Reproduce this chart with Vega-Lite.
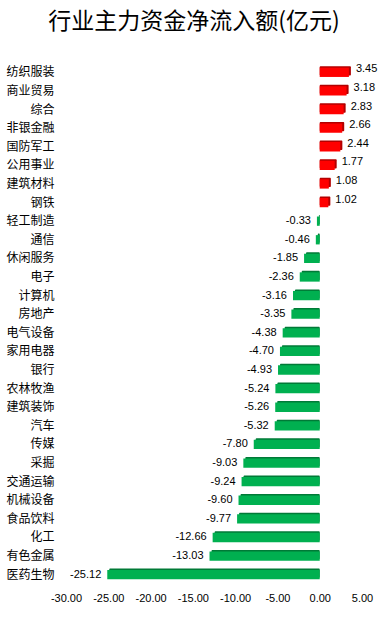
{
  "$schema": "https://vega.github.io/schema/vega-lite/v6.json",
  "width": 296,
  "height": 521,
  "autosize": {"type": "none"},
  "padding": {"left": 66, "top": 63, "right": 24, "bottom": 33},
  "background": "white",
  "title": {
    "text": "行业主力资金净流入额(亿元)",
    "font": "Noto Sans CJK SC",
    "fontSize": 23,
    "fontWeight": "normal",
    "color": "#000000",
    "anchor": "middle",
    "frame": "group",
    "dx": -20,
    "offset": 29
  },
  "data": {
    "values": [
      {"industry": "纺织服装", "value": 3.45},
      {"industry": "商业贸易", "value": 3.18},
      {"industry": "综合", "value": 2.83},
      {"industry": "非银金融", "value": 2.66},
      {"industry": "国防军工", "value": 2.44},
      {"industry": "公用事业", "value": 1.77},
      {"industry": "建筑材料", "value": 1.08},
      {"industry": "钢铁", "value": 1.02},
      {"industry": "轻工制造", "value": -0.33},
      {"industry": "通信", "value": -0.46},
      {"industry": "休闲服务", "value": -1.85},
      {"industry": "电子", "value": -2.36},
      {"industry": "计算机", "value": -3.16},
      {"industry": "房地产", "value": -3.35},
      {"industry": "电气设备", "value": -4.38},
      {"industry": "家用电器", "value": -4.70},
      {"industry": "银行", "value": -4.93},
      {"industry": "农林牧渔", "value": -5.24},
      {"industry": "建筑装饰", "value": -5.26},
      {"industry": "汽车", "value": -5.32},
      {"industry": "传媒", "value": -7.80},
      {"industry": "采掘", "value": -9.03},
      {"industry": "交通运输", "value": -9.24},
      {"industry": "机械设备", "value": -9.60},
      {"industry": "食品饮料", "value": -9.77},
      {"industry": "化工", "value": -12.66},
      {"industry": "有色金属", "value": -13.03},
      {"industry": "医药生物", "value": -25.12}
    ]
  },
  "encoding": {
    "y": {
      "field": "industry",
      "type": "nominal",
      "sort": null,
      "scale": {"paddingInner": 0.5, "paddingOuter": 0.25},
      "axis": {
        "title": null,
        "domain": false,
        "ticks": false,
        "labelFont": "Noto Sans CJK SC",
        "labelFontSize": 12,
        "labelColor": "#000000",
        "labelPadding": 12
      }
    },
    "x": {
      "field": "value",
      "type": "quantitative",
      "scale": {"domain": [-30, 5], "nice": false, "zero": false},
      "axis": {
        "title": null,
        "values": [-30, -25, -20, -15, -10, -5, 0, 5],
        "labelExpr": "replace(format(datum.value, '.2f'), '\u2212', '-')",
        "labelOverlap": false,
        "labelFlush": false,
        "grid": false,
        "domain": false,
        "ticks": false,
        "labelFont": "Liberation Sans",
        "labelFontSize": 11,
        "labelColor": "#000000",
        "labelPadding": 8
      }
    }
  },
  "layer": [
    {
      "mark": {"type": "bar", "xOffset": 2, "yOffset": -1.5, "cornerRadius": 1},
      "encoding": {
        "x2": {"datum": 0},
        "color": {
          "condition": {"test": "datum.value > 0", "value": "#b30000"},
          "value": "#007a37"
        }
      }
    },
    {
      "mark": {"type": "bar"},
      "encoding": {
        "x2": {"datum": 0},
        "color": {
          "condition": {"test": "datum.value > 0", "value": "#ff0000"},
          "value": "#00b050"
        }
      }
    },
    {
      "transform": [{"filter": "datum.value > 0"}],
      "mark": {"type": "text", "align": "left", "dx": 7, "dy": -3, "font": "Liberation Sans", "fontSize": 11, "color": "#000000",
        "text": {"expr": "format(datum.value, '.2f')"}}
    },
    {
      "transform": [{"filter": "datum.value < 0"}],
      "mark": {"type": "text", "align": "right", "dx": -6, "font": "Liberation Sans", "fontSize": 11, "color": "#000000",
        "text": {"expr": "replace(format(datum.value, '.2f'), '\u2212', '-')"}}
    }
  ],
  "config": {"view": {"stroke": null}}
}
